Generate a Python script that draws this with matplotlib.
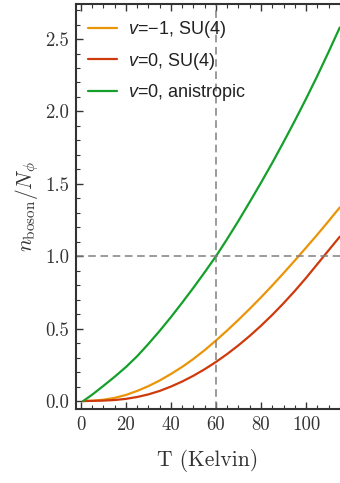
import matplotlib
matplotlib.use("Agg")
import matplotlib.pyplot as plt
from matplotlib.ticker import MultipleLocator, FormatStrFormatter

# Data
T = [1, 5, 10, 15, 20, 25, 30, 35, 40, 45, 50, 55, 60, 65, 70, 75, 80, 85,
     90, 95, 100, 105, 110, 115]
n_vm1_su4 = [0.0, 0.002, 0.009, 0.022, 0.042, 0.070, 0.103, 0.142, 0.187,
             0.236, 0.291, 0.352, 0.418, 0.488, 0.561, 0.637, 0.716, 0.798,
             0.883, 0.970, 1.059, 1.149, 1.242, 1.337]
n_v0_su4 = [0.0, 0.001, 0.003, 0.007, 0.015, 0.028, 0.046, 0.07, 0.1, 0.135,
            0.175, 0.22, 0.27, 0.325, 0.385, 0.45, 0.52, 0.595, 0.675, 0.76,
            0.85, 0.945, 1.04, 1.135]
n_v0_aniso = [0.0, 0.044, 0.105, 0.168, 0.235, 0.31, 0.395, 0.485, 0.58, 0.68,
              0.783, 0.89, 1.0, 1.12, 1.245, 1.375, 1.508, 1.645, 1.788, 1.935,
              2.087, 2.245, 2.41, 2.58]
labels = [r"$v$=$-$1, SU(4)", r"$v$=0, SU(4)", r"$v$=0, anistropic"]
colors = ["#EA9408", "#CF3A0C", "#14A02A"]
x_ref = 60
y_ref = 1.0

plt.rcParams["mathtext.fontset"] = "custom"
plt.rcParams["mathtext.it"] = "Liberation Sans:italic"
plt.rcParams["mathtext.rm"] = "Liberation Sans"

fig = plt.figure(figsize=(3.4, 4.83), dpi=100)
ax = fig.add_axes([76 / 340, 74 / 483, 1 - 76 / 340, (409 - 4) / 483])

for y, lab, c in zip([n_vm1_su4, n_v0_su4, n_v0_aniso], labels, colors):
    ax.plot(T, y, color=c, lw=1.6, label=lab, solid_capstyle="round")

ax.axvline(x_ref, color="#808080", lw=1.1, ls=(0, (5, 3)))
ax.axhline(y_ref, color="#808080", lw=1.1, ls=(0, (5, 3)))

ax.set_xlim(-2.2, 115.1)
ax.set_ylim(-0.055, 2.742)

ax.xaxis.set_major_locator(MultipleLocator(20))
ax.xaxis.set_minor_locator(MultipleLocator(5))
ax.yaxis.set_major_locator(MultipleLocator(0.5))
ax.yaxis.set_minor_locator(MultipleLocator(0.1))
ax.yaxis.set_major_formatter(FormatStrFormatter("%.1f"))
ax.xaxis.set_major_formatter(FormatStrFormatter("%d"))

ax.tick_params(which="both", direction="in", top=True, right=False,
               color="#333333")
ax.tick_params(which="major", length=5, width=1.0)
ax.tick_params(which="minor", length=3, width=0.8)
ax.tick_params(axis="both", which="major", labelsize=13.5, pad=5,
               labelcolor="#333333")
for lab in ax.get_xticklabels() + ax.get_yticklabels():
    lab.set_fontfamily("cmr10")
ax.spines["right"].set_visible(False)
for sp in ax.spines.values():
    sp.set_linewidth(1.5)
    sp.set_color("#333333")

ax.set_xlabel("T (Kelvin)", fontsize=15.5, family="cmr10",
              color="#333333", labelpad=11)
ax.set_ylabel(r"$n_{\rm boson}/N_\phi$", fontsize=15.5, math_fontfamily="cm",
              color="#333333", labelpad=3)

leg = ax.legend(loc="upper left", frameon=False, fontsize=13,
                handlelength=1.6, handletextpad=0.6, labelspacing=0.57,
                borderaxespad=0.0, bbox_to_anchor=(0.019, 0.980))
for t in leg.get_texts():
    t.set_fontfamily("Liberation Sans")
    t.set_color("#222222")

fig.savefig("out.png", dpi=100)
